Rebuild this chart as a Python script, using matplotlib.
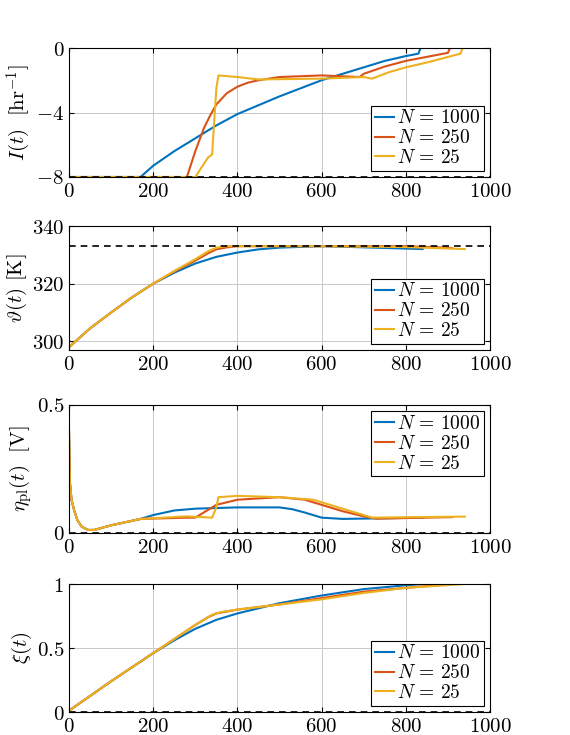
import matplotlib
matplotlib.use("Agg")
import matplotlib.pyplot as plt

plt.rcParams['mathtext.fontset'] = 'cm'
plt.rcParams['font.family'] = ['DejaVu Serif']
plt.rcParams['font.size'] = 13

labels = [r'$N\,=\,1000$', r'$N\,=\,250$', r'$N\,=\,25$']
colors = ['#0072BD', '#D95319', '#EDB120']

# Panel 1: I(t)
I_t = [[0,170,200,250,300,350,400,450,500,550,600,650,700,750,800,830,835,840],
       [0,280,290,300,320,335,350,375,400,425,450,500,600,690,700,750,800,850,900,905,910],
       [0,300,330,340,345,350,355,400,450,600,700,720,760,800,850,930,935,940]]
I_v = [[-8,-8,-7.3,-6.4,-5.6,-4.8,-4.1,-3.55,-3.0,-2.5,-2.0,-1.6,-1.2,-0.8,-0.5,-0.35,0,0],
       [-8,-8,-7.2,-6.4,-5.0,-4.2,-3.5,-2.8,-2.4,-2.15,-2.0,-1.8,-1.7,-1.8,-1.6,-1.15,-0.8,-0.55,-0.3,0,0],
       [-8,-8,-6.8,-6.6,-4.5,-2.5,-1.7,-1.8,-1.95,-1.9,-1.8,-1.9,-1.5,-1.2,-0.9,-0.35,0,0]]
# Panel 2: theta(t)
th_t = [[0,50,100,150,200,250,300,350,400,450,500,600,700,840],
        [0,50,100,150,200,250,300,330,350,375,400,600,800,900,910],
        [0,50,100,150,200,250,300,330,350,375,400,600,800,940]]
th_v = [[298,304.5,310,315.3,320,323.8,327,329.3,330.8,331.9,332.5,333,332.6,332],
        [298,304.5,310,315.3,320,324.2,328,330.5,331.9,332.6,333,333,333,332.5,332.3],
        [298,304.5,310,315.3,320,324.4,328.5,331.2,332.5,333,333,333,332.7,332]]
# Panel 3: eta_pl(t)
eta_t = [[0,2,6,12,20,30,45,60,100,170,200,250,300,400,500,530,560,600,650,840],
         [0,2,6,12,20,30,45,60,100,170,280,300,350,400,500,560,600,650,700,730,910],
         [0,2,6,12,20,30,45,60,100,170,280,340,350,355,400,500,580,620,650,720,940]]
eta_v = [[0.4,0.2,0.13,0.09,0.05,0.025,0.012,0.012,0.03,0.055,0.07,0.088,0.095,0.1,0.1,0.093,0.08,0.06,0.055,0.06],
         [0.4,0.2,0.13,0.09,0.05,0.025,0.012,0.012,0.03,0.055,0.06,0.06,0.11,0.13,0.14,0.13,0.11,0.085,0.065,0.056,0.062],
         [0.4,0.2,0.13,0.09,0.05,0.025,0.012,0.012,0.03,0.055,0.065,0.06,0.1,0.14,0.145,0.14,0.13,0.11,0.095,0.06,0.064]]
# Panel 4: xi(t)
xi_t = [[0,100,200,250,300,350,400,500,600,700,800,840],
        [0,100,200,250,300,330,350,400,500,600,700,800,910],
        [0,100,200,250,300,340,360,400,500,600,700,800,940]]
xi_v = [[0.01,0.24,0.46,0.56,0.65,0.72,0.77,0.85,0.91,0.96,0.99,1.0],
        [0.01,0.24,0.46,0.57,0.68,0.74,0.77,0.8,0.84,0.89,0.94,0.97,1.0],
        [0.01,0.24,0.46,0.57,0.68,0.76,0.78,0.8,0.84,0.88,0.93,0.97,1.0]]

panels = [
    (I_t, I_v, (-8, 0), [-8, -4, 0], ['-8', '-4', '0'], [-8], r'$I(t)\ \ [\mathrm{hr}^{-1}]$', 'lower right'),
    (th_t, th_v, (297, 340), [300, 320, 340], ['300', '320', '340'], [333], r'$\vartheta(t)\ [\mathrm{K}]$', 'lower right'),
    (eta_t, eta_v, (0, 0.5), [0, 0.5], ['0', '0.5'], [0], r'$\eta_{\mathrm{pl}}(t)\ \ [\mathrm{V}]$', 'upper right'),
    (xi_t, xi_v, (0, 1), [0, 0.5, 1], ['0', '0.5', '1'], [0, 1], r'$\xi(t)$', 'lower right'),
]
xticks = [0, 200, 400, 600, 800, 1000]

fig = plt.figure(figsize=(5.7, 7.35), dpi=100)
W, H = 570, 735
boxes = [(48, 177), (226, 350), (405, 533), (584, 712)]
for (tt, vv, ylim, yt, ytl, dash, ylab, loc), (top, bot) in zip(panels, boxes):
    ax = fig.add_axes([69 / W, 1 - bot / H, (490 - 69) / W, (bot - top) / H])
    for t, v, c, lab in zip(tt, vv, colors, labels):
        ax.plot(t, v, color=c, lw=1.5, label=lab)
    for d in dash:
        ax.axhline(d, color='k', ls='--', lw=1.2, dashes=(4, 3))
    ax.set_xlim(0, 1000)
    ax.set_ylim(*ylim)
    ax.set_xticks(xticks)
    ax.set_xticklabels([r'$\mathrm{%d}$' % x for x in xticks])
    ax.set_yticks(yt)
    ax.set_yticklabels([r'$\mathrm{%s}$' % s for s in ytl])
    ax.grid(True, color='#c8c8c8', lw=0.7)
    ax.tick_params(direction='in', top=True, right=True, labelsize=15)
    ax.set_ylabel(ylab, fontsize=15, labelpad=2)
    leg = ax.legend(loc=loc, fontsize=14, fancybox=False, framealpha=1,
                    edgecolor='k', borderpad=0.2, labelspacing=0.1,
                    handlelength=1.0, handletextpad=0.15, borderaxespad=0.3)
    leg.get_frame().set_linewidth(0.8)

fig.savefig('out.png', dpi=100)
